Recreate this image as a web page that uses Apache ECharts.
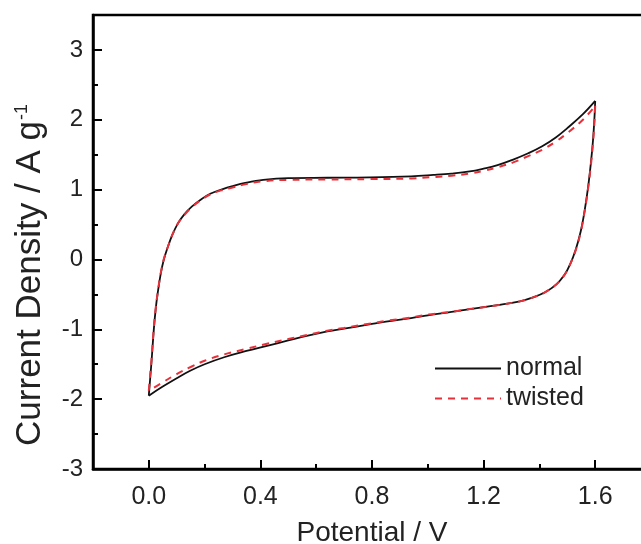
<!DOCTYPE html>
<html>
<head>
<meta charset="utf-8">
<script src="https://cdn.jsdelivr.net/npm/echarts@6/dist/echarts.min.js"></script>
<style>
html,body{margin:0;padding:0;background:#fff;}
#chart{width:641px;height:544px;}
</style>
</head>
<body>
<div id="chart"></div>
<script>
// Tick labels
var xTickLabels = [0.0, 0.4, 0.8, 1.2, 1.6];
var xMinorTicks = [0.2, 0.6, 1.0, 1.4];
var yTickLabels = [-3, -2, -1, 0, 1, 2, 3];
var yMinorTicks = [-2.5, -1.5, -0.5, 0.5, 1.5, 2.5];

// normal: forward (anodic) scan
var normalFwdX = [0.000,0.005,0.010,0.018,0.025,0.032,0.043,0.054,0.070,0.084,0.105,0.128,0.155,0.187,0.22,0.26,0.30,0.35,0.41,0.50,0.64,0.79,0.94,1.02,1.085,1.15,1.20,1.25,1.306,1.36,1.41,1.46,1.50,1.556,1.60];
var normalFwdY = [-1.95,-1.70,-1.45,-1.00,-0.70,-0.48,-0.20,0.00,0.20,0.35,0.52,0.65,0.76,0.86,0.94,1.00,1.05,1.10,1.14,1.165,1.17,1.175,1.19,1.21,1.23,1.26,1.30,1.35,1.43,1.52,1.62,1.75,1.88,2.08,2.27];
// normal: reverse (cathodic) scan
var normalRevX = [1.60,1.597,1.592,1.585,1.575,1.563,1.548,1.53,1.51,1.49,1.46,1.42,1.38,1.33,1.25,1.15,1.085,1.00,0.94,0.85,0.79,0.70,0.64,0.57,0.50,0.42,0.35,0.27,0.20,0.15,0.10,0.05,0.00];
var normalRevY = [2.27,2.00,1.70,1.40,1.05,0.72,0.40,0.14,-0.07,-0.22,-0.36,-0.47,-0.54,-0.60,-0.655,-0.71,-0.75,-0.80,-0.84,-0.89,-0.93,-0.99,-1.03,-1.09,-1.16,-1.24,-1.31,-1.40,-1.50,-1.59,-1.70,-1.82,-1.95];

// twisted: forward scan
var twistedFwdX = [0.000,0.005,0.010,0.018,0.025,0.032,0.043,0.054,0.070,0.084,0.105,0.128,0.155,0.187,0.22,0.26,0.30,0.35,0.41,0.50,0.64,0.79,0.94,1.02,1.085,1.15,1.20,1.25,1.306,1.36,1.41,1.46,1.50,1.556,1.60];
var twistedFwdY = [-1.88,-1.65,-1.42,-0.98,-0.69,-0.47,-0.19,0.01,0.20,0.35,0.52,0.64,0.75,0.85,0.93,0.99,1.03,1.08,1.12,1.14,1.145,1.15,1.16,1.18,1.20,1.23,1.27,1.32,1.39,1.48,1.57,1.69,1.81,2.00,2.20];
// twisted: reverse scan
var twistedRevX = [1.60,1.597,1.592,1.585,1.575,1.563,1.548,1.53,1.51,1.49,1.46,1.42,1.38,1.33,1.25,1.15,1.085,1.00,0.94,0.85,0.79,0.70,0.64,0.57,0.50,0.42,0.35,0.27,0.20,0.15,0.10,0.05,0.00];
var twistedRevY = [2.20,1.95,1.66,1.37,1.03,0.71,0.39,0.13,-0.07,-0.22,-0.36,-0.47,-0.54,-0.60,-0.655,-0.71,-0.75,-0.79,-0.83,-0.88,-0.92,-0.98,-1.02,-1.08,-1.14,-1.21,-1.28,-1.36,-1.45,-1.54,-1.64,-1.76,-1.88];

function pairs(xs, ys){ return xs.map(function(x,i){ return [x, ys[i]]; }); }

var FONT = 'Liberation Sans, Arial, sans-serif';
var TXT = '#222';

var chart = echarts.init(document.getElementById('chart'), null, {renderer:'canvas'});

function lineSeries(name, data, color, width, type){
  return {
    name: name, type: 'line', data: data, xAxisIndex: 0, yAxisIndex: 0,
    showSymbol: false, symbol: 'none', smooth: 0.4,
    lineStyle: {color: color, width: width, type: type},
    itemStyle: {color: color},
    emphasis: {disabled: true}, animation: false, z: name === 'normal' ? 3 : 4
  };
}

chart.setOption({
  animation: false,
  backgroundColor: '#fff',
  grid: {left: 93, top: 15, bottom: 75, right: -10, show: true, borderColor: '#000', borderWidth: 2.5, backgroundColor: 'transparent', outerBoundsMode: 'none'},
  legend: {
    orient: 'vertical', left: 429, top: 351,
    data: ['normal', 'twisted'],
    itemWidth: 66, itemHeight: 14, itemGap: 5,
    itemStyle: {opacity: 0},
    textStyle: {fontFamily: FONT, fontSize: 25, color: TXT},
    selectedMode: false
  },
  xAxis: [{
    type: 'value', min: -0.2, max: 1.8, interval: 0.2, position: 'bottom',
    name: 'Potential / V', nameLocation: 'middle', nameGap: 50,
    nameTextStyle: {fontFamily: FONT, fontSize: 28, color: TXT},
    axisLine: {show: true, onZero: false, lineStyle: {color: '#000', width: 2.5}},
    axisTick: {show: true, inside: true, length: 9, customValues: xTickLabels, lineStyle: {color: '#000', width: 2}},
    axisLabel: {show: true, customValues: xTickLabels, margin: 16, fontFamily: FONT, fontSize: 25, color: TXT,
      formatter: function(v){ return v.toFixed(1); }},
    splitLine: {show: false}
  }, {
    type: 'value', min: -0.2, max: 1.8, interval: 0.2, position: 'bottom',
    axisLine: {show: false, onZero: false},
    axisTick: {show: true, inside: true, length: 5, customValues: xMinorTicks, lineStyle: {color: '#000', width: 2}},
    axisLabel: {show: false},
    splitLine: {show: false}
  }],
  yAxis: [{
    type: 'value', min: -3, max: 3.5, interval: 1, position: 'left',
    name: '{t|Current Density / A g}{s|-1}', nameLocation: 'middle', nameGap: 45, nameRotate: 90,
    nameTextStyle: {fontFamily: FONT, fontSize: 35, color: TXT, padding: [0, 66, 0, 0],
      rich: {t: {fontFamily: FONT, fontSize: 35, color: TXT}, s: {fontFamily: FONT, fontSize: 18, color: TXT, verticalAlign: 'top', padding: [0,0,15,1]}}},
    axisLine: {show: true, onZero: false, lineStyle: {color: '#000', width: 2.5}},
    axisTick: {show: true, inside: true, length: 9, customValues: yTickLabels, lineStyle: {color: '#000', width: 2}},
    axisLabel: {show: true, customValues: yTickLabels, margin: 10, fontFamily: FONT, fontSize: 24, color: TXT,
      formatter: function(v){ return String(v); }},
    splitLine: {show: false}
  }, {
    type: 'value', min: -3, max: 3.5, interval: 1, position: 'left',
    axisLine: {show: false, onZero: false},
    axisTick: {show: true, inside: true, length: 5, customValues: yMinorTicks, lineStyle: {color: '#000', width: 2}},
    axisLabel: {show: false},
    splitLine: {show: false}
  }],
  series: [
    lineSeries('normal', pairs(normalFwdX, normalFwdY), '#111', 1.8, 'solid'),
    lineSeries('normal', pairs(normalRevX, normalRevY), '#111', 1.8, 'solid'),
    lineSeries('twisted', pairs(twistedFwdX, twistedFwdY), '#e8303a', 2, [7, 6]),
    lineSeries('twisted', pairs(twistedRevX, twistedRevY), '#e8303a', 2, [7, 6])
  ]
});
</script>
</body>
</html>
